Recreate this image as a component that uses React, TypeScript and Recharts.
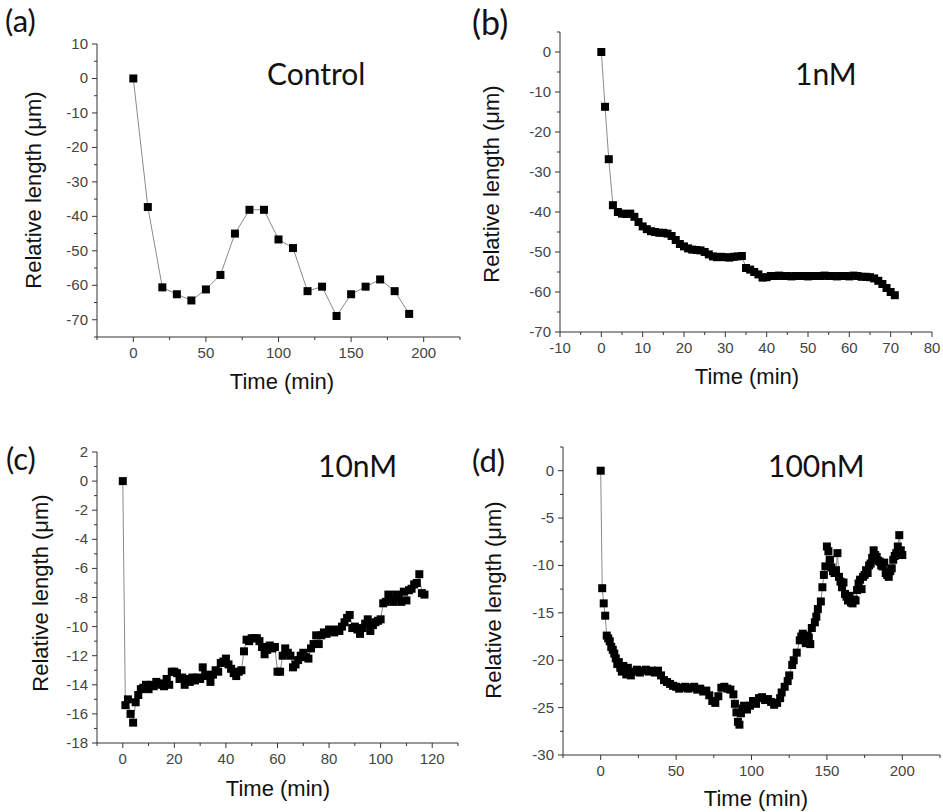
import React from 'react'
import { LineChart, Line, XAxis, YAxis } from 'recharts'

// (a) Control
const controlTime = [0, 10, 20, 30, 40, 50, 60, 70, 80, 90, 100, 110, 120, 130, 140, 150, 160, 170, 180, 190]
const controlLength = [0, -37.3, -60.6, -62.6, -64.4, -61.2, -57, -45, -38.1, -38.1, -46.7, -49.2, -61.7, -60.4, -68.9, -62.6, -60.4, -58.3, -61.7, -68.3]

// (b) 1nM
const nm1Time = [
  0, 0.9, 1.8, 2.8, 4, 5, 6, 7, 8, 9, 10, 11, 12, 13, 14, 15, 16, 17, 18, 19, 20, 21, 22, 23, 24, 25,
  26, 27, 28, 29, 30, 31, 32, 33, 34, 35, 36, 37, 38, 39, 40, 41, 42, 43, 44, 45, 46, 47, 48, 49, 50,
  51, 52, 53, 54, 55, 56, 57, 58, 59, 60, 61, 62, 63, 64, 65, 66, 67, 68, 69, 70, 71,
]
const nm1Length = [
  0, -13.7, -26.8, -38.3, -40, -40.4, -40.5, -40.4, -41.2, -42.5, -43.6, -44.3, -44.8, -45, -45.2, -45.2,
  -45.4, -46, -47, -48, -48.6, -49.1, -49.4, -49.5, -49.6, -50, -50.6, -51.1, -51.3, -51.2, -51.3, -51.4,
  -51.2, -51.1, -51, -54, -54.4, -55, -55.6, -56.4, -56.3, -56, -56, -55.9, -56, -56, -56.1, -56, -56, -56,
  -56.1, -56, -56, -56, -55.9, -56, -56, -56.1, -56, -56, -56.1, -55.9, -56, -56.2, -56.2, -56.3, -56.6,
  -57.2, -58, -59, -60, -60.8,
]

// (c) 10nM
const nm10Time = [
  0, 1, 2, 3, 4, 5, 6, 7, 8, 9, 10, 11, 12, 13, 14, 15, 16, 17, 18, 19, 20, 21, 22, 23, 24, 25, 26, 27, 28,
  29, 30, 31, 32, 33, 34, 35, 36, 37, 38, 39, 40, 41, 42, 43, 44, 45, 46, 47, 48, 49, 50, 51, 52, 53, 54, 55,
  56, 57, 58, 59, 60, 61, 62, 63, 64, 65, 66, 67, 68, 69, 70, 71, 72, 73, 74, 75, 76, 77, 78, 79, 80, 81, 82,
  83, 84, 85, 86, 87, 88, 89, 90, 91, 92, 93, 94, 95, 96, 97, 98, 99, 100, 101, 102, 103, 104, 105, 106, 107,
  108, 109, 110, 111, 112, 113, 114, 115, 116, 117,
]
const nm10Length = [
  0, -15.4, -15.0, -16.0, -16.6, -15.2, -14.7, -14.3, -14.2, -14.0, -14.3, -14.0, -14.1, -13.8, -13.9, -14.0,
  -14.1, -13.6, -14.0, -13.1, -13.1, -13.2, -13.6, -13.5, -14.0, -13.6, -13.8, -13.5, -13.7, -13.5, -13.6,
  -12.8, -13.3, -13.4, -13.8, -13.3, -13.0, -13.1, -12.5, -12.4, -12.2, -12.6, -12.9, -13.2, -13.4, -13.1,
  -13.0, -11.7, -10.9, -11.0, -10.8, -10.8, -10.8, -11.0, -11.4, -11.9, -11.6, -11.3, -11.5, -11.4, -13.1,
  -13.1, -12.0, -11.5, -11.8, -12.0, -12.8, -12.6, -12.3, -12.0, -11.8, -12.1, -12.2, -11.5, -11.2, -10.6,
  -11.2, -10.6, -10.4, -10.5, -10.2, -10.3, -10.4, -10.2, -10.3, -10.0, -9.7, -9.4, -9.2, -10.1, -10.0,
  -10.2, -10.5, -10.1, -9.8, -9.5, -10.3, -9.9, -9.7, -9.6, -9.5, -8.4, -8.3, -7.8, -8.1, -8.3, -7.8, -8.0,
  -8.3, -7.6, -8.2, -7.5, -7.4, -7.1, -7.0, -6.4, -7.7, -7.8,
]

// (d) 100nM
const nm100Time = [
  0, 1, 2, 3, 4, 5, 6, 7, 8, 9, 10, 11, 12, 13, 14, 15, 16, 17, 18, 19, 20, 22, 24, 26, 28, 30, 32, 34, 36,
  38, 40, 42, 44, 46, 48, 50, 52, 54, 56, 58, 60, 62, 64, 66, 68, 70, 72, 74, 76, 78, 80, 82, 84, 86, 88, 89,
  90, 91, 92, 93, 94, 95, 97, 99, 101, 103, 105, 107, 109, 111, 113, 115, 117, 119, 120, 122, 124, 125, 127,
  128, 130, 132, 133, 134, 135, 136, 137, 138, 139, 140, 142, 143, 144, 146, 147, 148, 149, 150, 151, 152,
  153, 154, 155, 156, 157, 158, 159, 160, 161, 162, 163, 164, 165, 166, 167, 168, 169, 170, 171, 172, 173,
  174, 175, 176, 177, 178, 179, 180, 181, 182, 183, 184, 185, 186, 187, 188, 189, 190, 191, 192, 193, 194,
  195, 196, 197, 198, 199, 200,
]
const nm100Length = [
  0, -12.4, -14.0, -15.3, -17.4, -17.7, -18.0, -18.6, -18.9, -19.3, -19.8, -20.4, -20.2, -20.8, -21.2, -20.6,
  -21.1, -21.5, -20.8, -21.3, -21.6, -21.2, -21.0, -21.3, -21.1, -21.0, -21.2, -21.1, -21.3, -21.1, -21.6,
  -22.1, -22.3, -22.5, -22.7, -22.8, -23.0, -22.9, -22.8, -23.0, -22.9, -22.8, -23.1, -23.0, -23.3, -23.2,
  -23.7, -24.3, -24.5, -23.8, -22.9, -22.8, -23.0, -23.1, -23.6, -24.6, -25.5, -26.5, -26.8, -25.6, -25.1,
  -24.8, -25.2, -24.8, -24.3, -24.6, -24.0, -23.9, -24.2, -24.1, -24.4, -24.7, -24.5, -24.0, -23.4, -22.8,
  -22.2, -21.6, -20.5, -20.0, -19.2, -17.9, -17.5, -17.2, -17.8, -18.2, -17.4, -17.6, -18.3, -16.6, -16.0,
  -15.4, -14.6, -13.8, -12.3, -11.0, -10.1, -8.0, -8.5, -9.4, -10.2, -10.6, -10.8, -10.5, -8.7, -11.2, -11.7,
  -12.3, -11.8, -13.0, -13.3, -13.7, -13.2, -13.9, -14.0, -13.6, -13.7, -12.6, -11.9, -11.5, -12.5, -11.2,
  -11.0, -10.5, -10.8, -10.0, -9.8, -9.2, -8.4, -8.9, -9.1, -9.5, -9.6, -10.0, -10.1, -9.7, -10.8, -11.0,
  -11.2, -10.6, -10.3, -9.4, -9.0, -8.7, -8.0, -6.8, -8.4, -8.9,
]

// ticks (majors get labels, the rest are minor ticks)
const aXTicks = [-25, 0, 25, 50, 75, 100, 125, 150, 175, 200, 225]
const aYTicks = [-75, -70, -65, -60, -55, -50, -45, -40, -35, -30, -25, -20, -15, -10, -5, 0, 5, 10]
const bXTicks = [-10, -5, 0, 5, 10, 15, 20, 25, 30, 35, 40, 45, 50, 55, 60, 65, 70, 75, 80]
const bYTicks = [-70, -65, -60, -55, -50, -45, -40, -35, -30, -25, -20, -15, -10, -5, 0, 5]
const cXTicks = [-10, 0, 10, 20, 30, 40, 50, 60, 70, 80, 90, 100, 110, 120, 130]
const cYTicks = [-18, -17, -16, -15, -14, -13, -12, -11, -10, -9, -8, -7, -6, -5, -4, -3, -2, -1, 0, 1, 2]
const dXTicks = [-25, 0, 25, 50, 75, 100, 125, 150, 175, 200, 225]
const dYTicks = [-30, -27.5, -25, -22.5, -20, -17.5, -15, -12.5, -10, -7.5, -5, -2.5, 0, 2.5]

const toRows = (t: number[], v: number[]) => t.map((x, i) => ({ t: x, v: v[i] }))

const TICK_FONT = '"Liberation Sans", Arial, sans-serif'
const AXIS = '#333'

const isMajor = (v: number, step: number) => Math.abs(v / step - Math.round(v / step)) < 1e-6

function XTick(props: any) {
  const { x, y, payload, step } = props
  const major = isMajor(payload.value, step)
  return (
    <g>
      <line x1={x} x2={x} y1={y} y2={y + (major ? 5 : 3)} stroke={AXIS} strokeWidth={1} />
      {major && (
        <text x={x} y={y + 21} textAnchor="middle" fontSize={15} fill="#444" fontFamily={TICK_FONT}>
          {payload.value}
        </text>
      )}
    </g>
  )
}

function YTick(props: any) {
  const { x, y, payload, step } = props
  const major = isMajor(payload.value, step)
  return (
    <g>
      <line x1={x} x2={x - (major ? 5 : 3)} y1={y} y2={y} stroke={AXIS} strokeWidth={1} />
      {major && (
        <text x={x - 9} y={y + 5} textAnchor="end" fontSize={15} fill="#444" fontFamily={TICK_FONT}>
          {payload.value}
        </text>
      )}
    </g>
  )
}

const square = (p: any) => (
  <rect key={`sq-${p.index}`} x={p.cx - 4} y={p.cy - 4} width={8} height={8} fill="#000" />
)

interface PanelProps {
  left: number
  top: number
  width: number
  height: number
  rows: { t: number; v: number }[]
  xDomain: [number, number]
  yDomain: [number, number]
  xTicks: number[]
  yTicks: number[]
  xStep: number
  yStep: number
}

function Panel({ left, top, width, height, rows, xDomain, yDomain, xTicks, yTicks, xStep, yStep }: PanelProps) {
  const padL = 70
  const padT = 12
  const padR = 12
  const padB = 40
  return (
    <div style={{ position: 'absolute', left: left - padL, top: top - padT }}>
      <LineChart
        width={width + padL + padR}
        height={height + padT + padB}
        data={rows}
        margin={{ top: padT, right: padR, bottom: 0, left: 0 }}
      >
        <XAxis
          type="number"
          dataKey="t"
          domain={xDomain}
          ticks={xTicks}
          interval={0}
          allowDataOverflow
          height={padB}
          tickSize={0}
          tickMargin={0}
          tickLine={false}
          axisLine={{ stroke: AXIS }}
          tick={(p: any) => <XTick {...p} step={xStep} />}
        />
        <YAxis
          type="number"
          domain={yDomain}
          ticks={yTicks}
          interval={0}
          allowDataOverflow
          width={padL}
          tickSize={0}
          tickMargin={0}
          tickLine={false}
          axisLine={{ stroke: AXIS }}
          tick={(p: any) => <YTick {...p} step={yStep} />}
        />
        <Line
          type="linear"
          dataKey="v"
          stroke="#8a8a8a"
          strokeWidth={1}
          dot={square}
          activeDot={false}
          isAnimationActive={false}
        />
      </LineChart>
    </div>
  )
}

const titleFont = 'Lato, "Open Sans", sans-serif'
const axisTitle: React.CSSProperties = {
  position: 'absolute',
  fontFamily: TICK_FONT,
  fontSize: 22,
  lineHeight: 1,
  color: '#111',
  whiteSpace: 'nowrap',
}

function Label({ x, y, size, text }: { x: number; y: number; size: number; text: string }) {
  return (
    <div
      style={{
        position: 'absolute',
        left: x,
        top: y,
        fontFamily: titleFont,
        fontSize: size,
        lineHeight: 1,
        color: '#111',
        whiteSpace: 'nowrap',
      }}
    >
      {text}
    </div>
  )
}

function XTitle({ cx, cy }: { cx: number; cy: number }) {
  return <div style={{ ...axisTitle, left: cx, top: cy, transform: 'translate(-50%, -50%)' }}>Time (min)</div>
}

function YTitle({ cx, cy }: { cx: number; cy: number }) {
  return (
    <div style={{ ...axisTitle, left: cx, top: cy, transform: 'translate(-50%, -50%) rotate(-90deg)' }}>
      Relative length (μm)
    </div>
  )
}

export default function App() {
  return (
    <div
      style={{
        position: 'absolute',
        left: 0,
        top: 0,
        width: 943,
        height: 812,
        overflow: 'hidden',
        background: '#fff',
      }}
    >
      <Panel left={97} top={44} width={363} height={293} rows={toRows(controlTime, controlLength)}
        xDomain={[-25, 225]} yDomain={[-75, 10]} xTicks={aXTicks} yTicks={aYTicks} xStep={50} yStep={10} />
      <Panel left={560} top={32} width={372} height={300} rows={toRows(nm1Time, nm1Length)}
        xDomain={[-10, 80]} yDomain={[-70, 5]} xTicks={bXTicks} yTicks={bYTicks} xStep={10} yStep={10} />
      <Panel left={97} top={452} width={361} height={291} rows={toRows(nm10Time, nm10Length)}
        xDomain={[-10, 130]} yDomain={[-18, 2]} xTicks={cXTicks} yTicks={cYTicks} xStep={20} yStep={2} />
      <Panel left={563} top={447} width={377} height={308} rows={toRows(nm100Time, nm100Length)}
        xDomain={[-25, 225]} yDomain={[-30, 2.5]} xTicks={dXTicks} yTicks={dYTicks} xStep={50} yStep={5} />

      <Label x={5} y={5} size={31} text="(a)" />
      <Label x={472} y={5} size={34} text="(b)" />
      <Label x={6} y={443} size={31} text="(c)" />
      <Label x={472} y={445} size={31} text="(d)" />

      <Label x={267} y={58} size={30} text="Control" />
      <Label x={795} y={58} size={30} text="1nM" />
      <Label x={318} y={450} size={30} text="10nM" />
      <Label x={768} y={450} size={30} text="100nM" />

      <XTitle cx={282} cy={382} />
      <XTitle cx={747} cy={377} />
      <XTitle cx={278} cy={789} />
      <XTitle cx={756} cy={799} />

      <YTitle cx={34} cy={190} />
      <YTitle cx={492} cy={184} />
      <YTitle cx={41} cy={593} />
      <YTitle cx={494} cy={600} />
    </div>
  )
}
